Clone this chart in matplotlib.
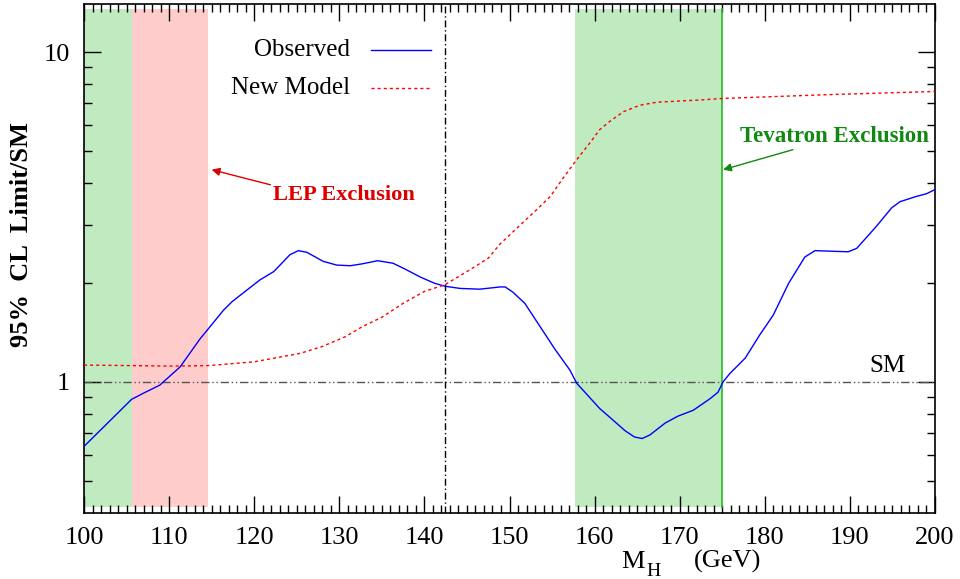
import numpy as np
import matplotlib.pyplot as plt
from matplotlib.ticker import FixedLocator, NullFormatter, MultipleLocator

plt.rcParams['font.family'] = ['Liberation Serif', 'DejaVu Serif']

# observed limit / SM versus Higgs mass
mh_obs = [100, 105.6, 107, 108.9, 111.3, 113.6, 116.4, 117.4, 118.7, 120.7, 122.3,
          124.2, 125.2, 126.2, 128.1, 129.7, 131.3, 132.7, 134.5, 136.3, 137.7,
          139.5, 141.2, 142.4, 144.2, 146.5, 148.9, 149.5, 150.4, 151.8, 153.6,
          155.3, 157.1, 157.9, 160.6, 161.8, 163.6, 164.7, 165.6, 166.5, 168.3,
          169.8, 171.6, 173.6, 174.5, 175.1, 175.9, 177.7, 179.4, 181.0, 182.8,
          184.7, 185.9, 189.8, 190.8, 193.1, 194.9, 195.9, 197.8, 199.0, 200]
obs = [0.637, 0.885, 0.924, 0.977, 1.11, 1.346, 1.65, 1.75, 1.86, 2.04, 2.16,
       2.43, 2.50, 2.47, 2.32, 2.26, 2.25, 2.28, 2.33, 2.29, 2.20,
       2.08, 1.99, 1.95, 1.92, 1.91, 1.94, 1.94, 1.87, 1.73, 1.47,
       1.26, 1.085, 0.99, 0.83, 0.78, 0.71, 0.68, 0.673, 0.69, 0.75,
       0.787, 0.82, 0.89, 0.93, 1.0, 1.06, 1.18, 1.387, 1.595, 1.99,
       2.39, 2.50, 2.48, 2.54, 2.96, 3.37, 3.52, 3.65, 3.72, 3.83]

# new model prediction
mh_new = [100, 105.6, 110, 114.6, 120, 125.4, 128, 130.7, 132.7, 135, 137.5, 140,
          142.4, 145, 147.5, 148.9, 151.2, 153.2, 154.8, 156.3, 157.9, 159.5,
          160.6, 161.8, 163.4, 165.3, 167.3, 170.0, 172.4, 175.1, 187.3, 200]
new = [1.124, 1.12, 1.116, 1.12, 1.15, 1.22, 1.28, 1.37, 1.47, 1.57, 1.73, 1.88,
       1.97, 2.16, 2.37, 2.62, 2.98, 3.33, 3.65, 4.15, 4.72, 5.33,
       5.82, 6.17, 6.60, 6.90, 7.05, 7.11, 7.16, 7.24, 7.43, 7.6]

lep_band = (105.6, 114.6)
tev_band = (157.7, 175.0)
low_band = (100, 105.6)
cross_mh = 142.4

fig = plt.figure(figsize=(9.6, 5.79), dpi=100)
ax = fig.add_axes([84 / 960, 1 - 513 / 579, (935 - 84) / 960, (513 - 4) / 579])
ax.set_xlim(100, 200)
ax.set_yscale('log')
ax.set_ylim(0.4, 14.0)

green = '#c0eac0'
pink = '#ffcccc'
ax.fill_between(low_band, 0.416, 13.5, color=green, lw=0, zorder=1)
ax.fill_between(lep_band, 0.416, 13.5, color=pink, lw=0, zorder=1)
ax.fill_between(tev_band, 0.416, 13.5, color=green, lw=0, zorder=1)
ax.plot([tev_band[1], tev_band[1]], [0.416, 13.5], color='#22bb22', lw=1.2, zorder=2)

ax.axhline(1.0, color='#555555', lw=1.0, ls=(0, (6, 2, 1, 2, 1, 2)), zorder=2)
ax.axvline(cross_mh, color='black', lw=1.0, ls=(0, (5, 2, 1, 2)), zorder=2)

red_dash = (0, (2.2, 2.2))
ax.plot(mh_obs, obs, color='blue', lw=1.0, zorder=3)
ax.plot(mh_new, new, color='red', lw=1.0, ls=red_dash, zorder=3)

# ticks on all four sides, pointing in
ax.xaxis.set_major_locator(MultipleLocator(10))
ax.xaxis.set_minor_locator(MultipleLocator(1))
ax.yaxis.set_major_locator(FixedLocator([1, 10]))
ax.yaxis.set_minor_locator(FixedLocator([0.5, 0.6, 0.7, 0.8, 0.9] + list(range(2, 10))))
ax.yaxis.set_minor_formatter(NullFormatter())
ax.set_yticklabels(['1', '10'])
ax.tick_params(which='both', direction='in', top=True, right=True, labelsize=19, width=1)
ax.tick_params(which='major', length=12)
ax.tick_params(which='minor', length=6)
ax.tick_params(axis='x', pad=10)
ax.tick_params(axis='y', pad=10)
for s in ax.spines.values():
    s.set_linewidth(1.2)

fig.text(22 / 960, 1 - 234.5 / 579, '95%  CL  Limit/SM', fontsize=19, fontweight='bold',
         rotation=90, ha='center', va='center')

fig.text(621 / 960, 1 - 568 / 579, 'M', fontsize=19, ha='left', va='baseline')
fig.text(646 / 960, 1 - 576 / 579, 'H', fontsize=14, ha='left', va='baseline')
fig.text(694 / 960, 1 - 568 / 579, '(GeV)', fontsize=19, ha='left', va='baseline')

# key, drawn by hand: label on the left, line sample on the right
def ax_x(px):
    return (px - 84) / 851

def ax_y(py):
    return (513 - py) / 509

for label, py, col, ls in [('Observed', 50, 'blue', '-'), ('New Model', 88, 'red', red_dash)]:
    ax.text(ax_x(350), ax_y(py), label, transform=ax.transAxes, fontsize=18,
            ha='right', va='center')
    ax.plot([ax_x(371), ax_x(431)], [ax_y(py), ax_y(py)], transform=ax.transAxes,
            color=col, lw=1.0, ls=ls)

ax.text(ax_x(869), ax_y(366), 'SM', transform=ax.transAxes, fontsize=18,
        ha='left', va='center')

ax.text(122.2, 3.69, 'LEP Exclusion', color='#dd0000', fontsize=16.2,
        fontweight='bold', va='center', ha='left')
ax.annotate('', xy=(115.0, 4.40), xytext=(121.9, 3.96),
            arrowprops=dict(arrowstyle='-|>', color='#dd0000', lw=1.0,
                            shrinkA=0, shrinkB=0, mutation_scale=12))
ax.text(188.2, 5.54, 'Tevatron Exclusion', color='#118811', fontsize=16.5,
        fontweight='bold', va='center', ha='center')
ax.annotate('', xy=(175.1, 4.40), xytext=(183.3, 5.06),
            arrowprops=dict(arrowstyle='-|>', color='#118811', lw=1.0,
                            shrinkA=0, shrinkB=0, mutation_scale=12))

fig.savefig('out.png', dpi=100)
